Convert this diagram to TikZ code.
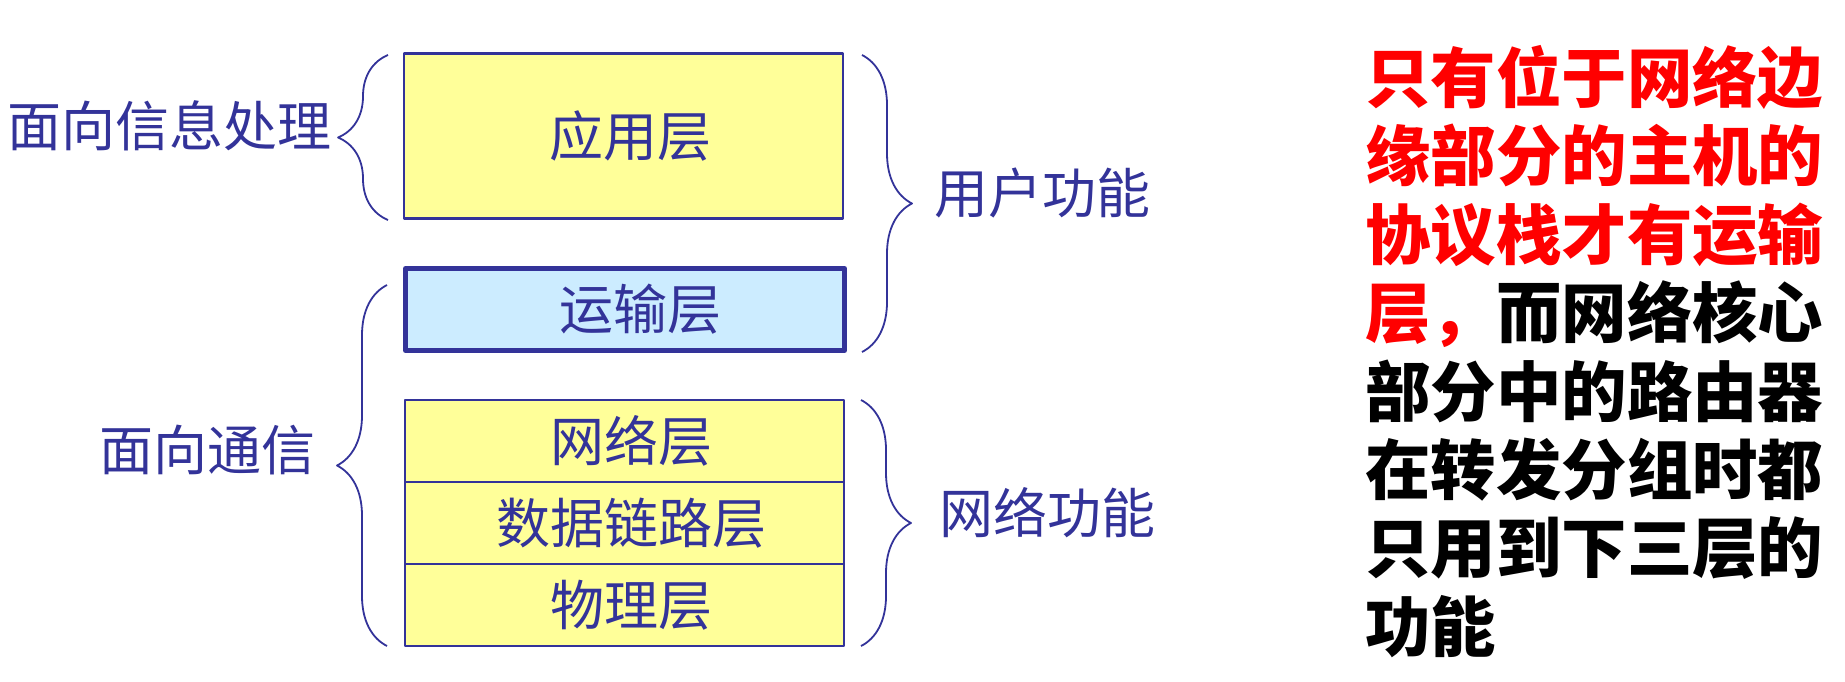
\documentclass[tikz,border=0pt]{standalone}
\usepackage{fontspec}
\newfontfamily\cjk{Noto Sans CJK SC}
\usetikzlibrary{decorations.pathreplacing}
\definecolor{layerink}{HTML}{333399}
\definecolor{layerfill}{HTML}{FFFF99}
\definecolor{transfill}{HTML}{CCECFF}

\begin{document}
\begin{tikzpicture}[x=.5pt,y=-.5pt,line join=round,
  every node/.style={inner sep=0pt,text=layerink,font=\cjk\fontsize{27pt}{32pt}\selectfont},
  layer/.style={draw=layerink,line width=1.1pt,fill=layerfill,
    minimum width=219.5pt,minimum height=41pt,
    execute at begin node={\hspace*{7pt}}},
  curly/.style={draw=layerink,line width=.9pt,decorate,
    decoration={brace,amplitude=25pt}}]
  \useasboundingbox (0,0) rectangle (1845,681);
  \node[layer,minimum height=82.5pt] (app) at (623.5,136) {应用层};
  \node[layer,fill=transfill,line width=2.5pt,
    execute at begin node={\hspace*{8pt}}] (trans) at (625,309.5) {运输层};
  \node[layer] (net) at (624.5,441) {网络层};
  \node[layer] (link) at (624.5,523) {数据链路层};
  \node[layer] (phys) at (624.5,605) {物理层};
  \coordinate (infoB) at (388,220); \coordinate (infoT) at (388,55);
  \coordinate (commB) at (387,646); \coordinate (commT) at (387,285);
  \coordinate (userT) at (862,55);  \coordinate (userB) at (862,352);
  \coordinate (netT) at (861,400);  \coordinate (netB) at (861,646);
  \draw[curly] (infoB) -- (infoT);
  \draw[curly] (commB) -- (commT);
  \draw[curly] (userT) -- (userB);
  \draw[curly] (netT) -- (netB);
  \node[anchor=east] (info) at (332,126) {面向信息处理};
  \node[anchor=east] (comm) at (316,450) {面向通信};
  \node[anchor=west] (user) at (934,193) {用户功能};
  \node[anchor=west] (netfn) at (939,513) {网络功能};
  \node[anchor=north west,align=left,text=black,
    font=\cjk\bfseries\fontsize{32.7pt}{39.2pt}\selectfont]
    (note) at (1365,45)
   {\textcolor{red}{只有位于网络边}\\
    \textcolor{red}{缘部分的主机的}\\
    \textcolor{red}{协议栈才有运输}\\
    \textcolor{red}{层，}而网络核心\\
    部分中的路由器\\
    在转发分组时都\\
    只用到下三层的\\
    功能};
\end{tikzpicture}
\end{document}
